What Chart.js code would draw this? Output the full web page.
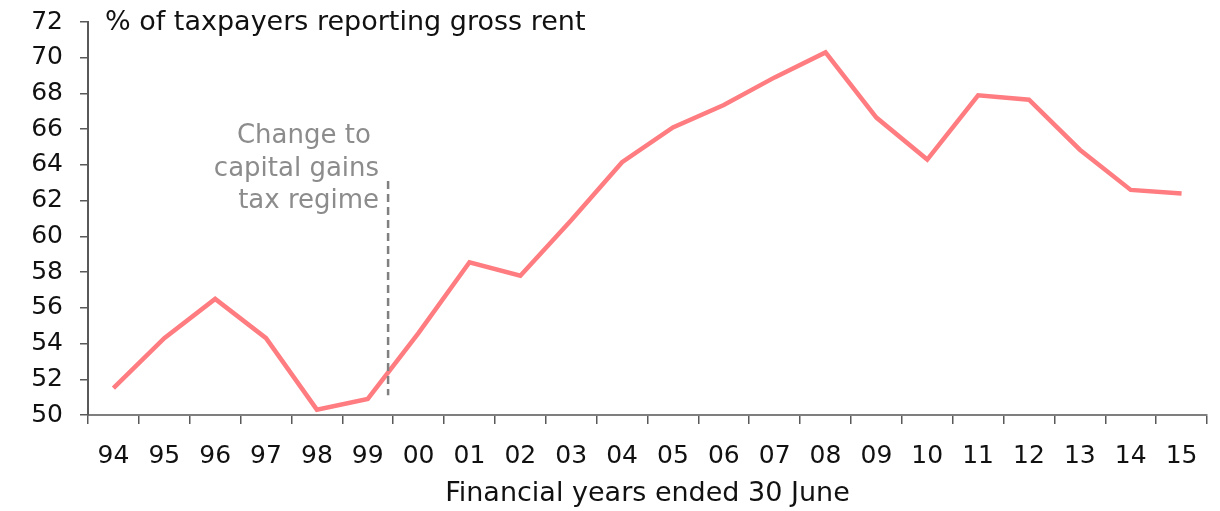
<!DOCTYPE html>
<html>
<head>
<meta charset="utf-8">
<script src="https://cdn.jsdelivr.net/npm/chart.js@4"></script>
<style>
  html, body { margin: 0; padding: 0; background: #ffffff; }
  #wrap { width: 1220px; height: 511px; position: relative; }
</style>
</head>
<body>
<div id="wrap"><canvas id="c"></canvas></div>
<script>
const years = ['94','95','96','97','98','99','00','01','02','03','04','05','06','07','08','09','10','11','12','13','14','15'];
const shareReportingRent = [51.5, 54.3, 56.5, 54.3, 50.3, 50.9, 54.6, 58.55, 57.8, 60.9, 64.15, 66.1, 67.35, 68.9, 70.3, 66.65, 64.3, 67.9, 67.65, 64.85, 62.6, 62.4];
const yTicks = [50, 52, 54, 56, 58, 60, 62, 64, 66, 68, 70, 72];
const chartTitle = '% of taxpayers reporting gross rent';
const xAxisTitle = 'Financial years ended 30 June';
const cgtNoteLines = ['Change to ', 'capital gains', 'tax regime'];
const cgtMarker = { x: 5.4, yFrom: 51.1, yTo: 63.1, labelTop: 65.6 };

const FONT = "'DejaVu Sans', sans-serif";

const annotations = {
  id: 'annotations',
  afterDatasetsDraw(chart) {
    const { ctx, chartArea, scales } = chart;
    const x = scales.x.getPixelForValue(cgtMarker.x);
    const y1 = scales.y.getPixelForValue(cgtMarker.yFrom);
    const y2 = scales.y.getPixelForValue(cgtMarker.yTo);
    ctx.save();
    ctx.strokeStyle = '#808080';
    ctx.lineWidth = 2.5;
    ctx.setLineDash([8, 5]);
    ctx.beginPath();
    ctx.moveTo(x, y2);
    ctx.lineTo(x, y1);
    ctx.stroke();
    ctx.setLineDash([]);
    ctx.fillStyle = '#8c8c8c';
    ctx.font = '26px ' + FONT;
    ctx.textAlign = 'right';
    ctx.textBaseline = 'middle';
    const top = scales.y.getPixelForValue(cgtMarker.labelTop);
    cgtNoteLines.forEach((t, i) => ctx.fillText(t, x - 9, top + i * 32.5));
    ctx.fillStyle = '#111111';
    ctx.font = '27px ' + FONT;
    ctx.textAlign = 'left';
    ctx.fillText(chartTitle, chartArea.left + 17, chartArea.top + 1);
    ctx.restore();
  }
};

new Chart(document.getElementById('c'), {
  type: 'line',
  data: {
    labels: years,
    datasets: [{
      data: shareReportingRent,
      borderColor: '#ff7c80',
      borderWidth: 4.5,
      pointRadius: 0,
      tension: 0,
      fill: false
    }]
  },
  options: {
    responsive: true,
    maintainAspectRatio: false,
    animation: false,
    layout: { padding: { top: 22, right: 13, left: 0, bottom: 0 } },
    plugins: { legend: { display: false }, tooltip: { enabled: false } },
    scales: {
      x: {
        offset: true,
        afterFit(scale) { scale.height = 96; },
        grid: { offset: true, drawOnChartArea: false, drawTicks: true, tickLength: 9, color: '#595959', lineWidth: 1.5 },
        border: { display: true, color: '#7f7f7f', width: 2 },
        ticks: { color: '#111111', font: { family: FONT, size: 25 }, padding: 17, maxRotation: 0, autoSkip: false },
        title: { display: true, text: xAxisTitle, color: '#111111', font: { family: FONT, size: 27 }, padding: { top: 2, bottom: 1 } }
      },
      y: {
        min: 50, max: 72,
        afterBuildTicks(scale) { scale.ticks = yTicks.map(v => ({ value: v })); },
        afterFit(scale) { scale.width = 88; scale.paddingTop = 0; scale.paddingBottom = 0; },
        grid: { drawOnChartArea: false, drawTicks: true, tickLength: 8, color: '#595959', lineWidth: 1.5 },
        border: { display: true, color: '#595959', width: 2 },
        ticks: { color: '#111111', font: { family: FONT, size: 25 }, padding: 17 }
      }
    }
  },
  plugins: [annotations]
});
</script>
</body>
</html>
